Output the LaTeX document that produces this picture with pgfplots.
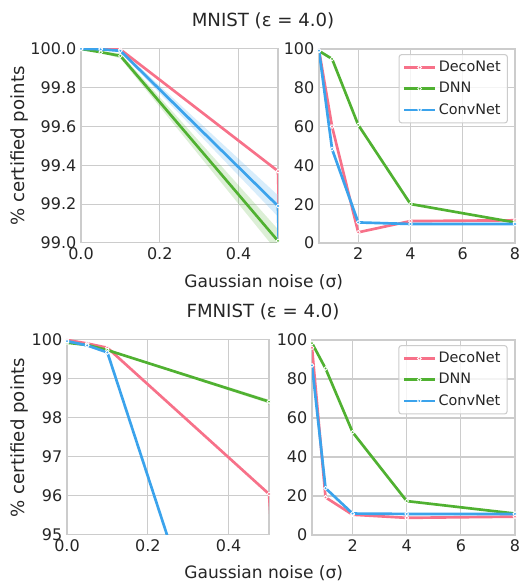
\documentclass[border=0pt]{standalone}
\usepackage{fontspec}
\setmainfont{DejaVu Sans}
\usepackage{pgfplots}
\pgfplotsset{compat=1.18}
\usepackage{pgfplotstable}

\definecolor{deco}{HTML}{F77189}
\definecolor{dnn}{HTML}{50B131}
\definecolor{conv}{HTML}{3BA3EC}
\definecolor{gridc}{HTML}{CCCCCC}
\definecolor{txt}{HTML}{262626}

% MNIST, eps = 4.0
\pgfplotstableread{
x    deco   dnn    conv
0    100    100    100
0.05 100    99.983 99.998
0.1  99.997 99.964 99.99
0.5  99.37  99.01  99.19
1    60.0   94.9   48.4
2    5.5    60.9   10.6
4    11.3   20.1   9.8
8    11.7   10.6   9.8
}\mnist

% FMNIST, eps = 4.0
\pgfplotstableread{
x    deco   dnn    conv
0    100    99.93  99.97
0.05 99.91  99.87  99.86
0.1  99.80  99.74  99.68
0.5  96.05  98.42  87.0
1    19.3   85.4   24.0
2    10.4   52.7   11.0
4    8.8    17.4   10.8
8    9.4    11.0   10.8
}\fmnist

% confidence bands (upper edge forward, lower edge back)
\pgfplotstableread{
x    y
0    100
0.05 99.987
0.1  99.977
0.5  99.07
0.5  98.95
0.1  99.951
0.05 99.979
0    100
}\mnistdnnband
\pgfplotstableread{
x    y
0    100
0.05 100
0.1  99.998
0.5  99.245
0.5  99.135
0.1  99.982
0.05 99.995
0    100
}\mnistconvband
\pgfplotstableread{
x    y
0    99.94
0.05 99.89
0.1  99.76
0.5  98.47
0.5  98.37
0.1  99.72
0.05 99.85
0    99.92
}\fmnistdnnband

\pgfplotsset{
  sb/.style={
    scale only axis,
    axis line style={gridc, line width=0.8pt},
    grid=major,
    major grid style={gridc, line width=0.8pt},
    major tick length=0pt,
    tick label style={font=\fontsize{12}{14}\selectfont, text=txt},
    /pgf/number format/assume math mode=true,
    legend style={at={(0.964,0.974)}, anchor=north east, draw=gridc,
      rounded corners=2pt, fill=white, fill opacity=0.8, text opacity=1,
      font=\fontsize{10.8}{13}\selectfont, text=txt, cells={anchor=west},
      row sep=2.5pt, inner sep=3pt, line width=0.8pt},
    legend image code/.code={\draw[mark repeat=2,mark phase=2]
      plot coordinates {(0cm,0cm) (0.4cm,0cm) (0.8cm,0cm)};},
  },
  ln/.style={#1, line width=2pt, mark=*, mark size=1.4pt,
    mark options={fill=#1, draw=white, line width=0.6pt}},
  band/.style={draw=none, mark=none, fill=#1, fill opacity=0.2, forget plot},
}

% #1 table, #2 x domain of the lines
\newcommand{\series}[2]{%
  \addplot[ln=deco, restrict x to domain=#2] table[x=x, y=deco]{#1};
  \addplot[ln=dnn, restrict x to domain=#2]  table[x=x, y=dnn]{#1};
  \addplot[ln=conv, restrict x to domain=#2] table[x=x, y=conv]{#1};
}

\begin{document}
\begin{tikzpicture}
\useasboundingbox (0,0) rectangle (390.75pt,437.25pt);

% ---- MNIST ----
\begin{axis}[sb, at={(60.75pt,255pt)}, anchor=south west,
  width=147.75pt, height=145.5pt,
  xmin=0, xmax=0.5, ymin=99, ymax=100,
  xtick={0,0.2,0.4}, ytick={99,99.2,99.4,99.6,99.8,100},
  xticklabel style={/pgf/number format/.cd, fixed, fixed zerofill, precision=1},
  yticklabel style={/pgf/number format/.cd, fixed, fixed zerofill, precision=1}]
\addplot[band=dnn] table[x=x, y=y]{\mnistdnnband} -- cycle;
\addplot[band=conv] table[x=x, y=y]{\mnistconvband} -- cycle;
\series{\mnist}{0:1}
\end{axis}

\begin{axis}[sb, at={(239.25pt,255pt)}, anchor=south west,
  width=147pt, height=145.5pt,
  xmin=0.5, xmax=8, ymin=0, ymax=100,
  xtick={2,4,6,8}, ytick={0,20,40,60,80,100}]
\series{\mnist}{0.5:8}
\legend{DecoNet, DNN, ConvNet}
\end{axis}

% ---- FMNIST ----
\begin{axis}[sb, at={(50.25pt,36pt)}, anchor=south west,
  width=151.5pt, height=146.25pt,
  xmin=0, xmax=0.5, ymin=95, ymax=100,
  xtick={0,0.2,0.4}, ytick={95,96,97,98,99,100},
  xticklabel style={/pgf/number format/.cd, fixed, fixed zerofill, precision=1}]
\addplot[band=dnn] table[x=x, y=y]{\fmnistdnnband} -- cycle;
\series{\fmnist}{0:1}
\end{axis}

\begin{axis}[sb, at={(234pt,36pt)}, anchor=south west,
  width=152.25pt, height=146.25pt,
  xmin=0.5, xmax=8, ymin=0, ymax=100,
  xtick={2,4,6,8}, ytick={0,20,40,60,80,100}]
\series{\fmnist}{0.5:8}
\legend{DecoNet, DNN, ConvNet}
\end{axis}

% titles and shared labels
\node[anchor=base, font=\fontsize{13.6}{16}\selectfont, text=txt] at (197.25pt,417.2pt) {MNIST (ε = 4.0)};
\node[anchor=base, font=\fontsize{12.8}{15}\selectfont, text=txt] at (197.8pt,221.8pt) {Gaussian noise (σ)};
\node[anchor=base, font=\fontsize{13.6}{16}\selectfont, text=txt] at (197.25pt,199.3pt) {FMNIST (ε = 4.0)};
\node[anchor=base, font=\fontsize{12.8}{15}\selectfont, text=txt] at (197.8pt,3pt) {Gaussian noise (σ)};
\node[rotate=90, font=\fontsize{13.6}{16}\selectfont, text=txt] at (14.25pt,327.75pt) {\% certified points};
\node[rotate=90, font=\fontsize{13.6}{16}\selectfont, text=txt] at (14.25pt,109.1pt) {\% certified points};
\end{tikzpicture}
\end{document}
